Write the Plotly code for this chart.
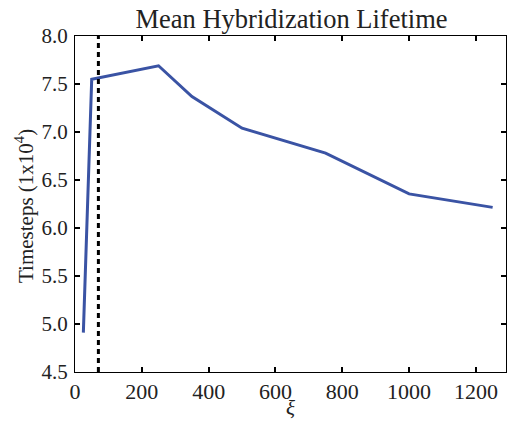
import plotly.graph_objects as go

xi = [25, 50, 250, 350, 500, 750, 1000, 1250]
lifetime = [4.91, 7.55, 7.69, 7.37, 7.04, 6.78, 6.355, 6.215]
threshold_x = 70
x_ticks = [0, 200, 400, 600, 800, 1000, 1200]
y_ticks = [4.5, 5.0, 5.5, 6.0, 6.5, 7.0, 7.5, 8.0]

font_family = "Liberation Serif"

fig = go.Figure()
fig.add_trace(go.Scatter(x=xi, y=lifetime, mode="lines",
                         line=dict(color="#3a53a4", width=3), showlegend=False))
fig.add_trace(go.Scatter(x=[threshold_x, threshold_x], y=[4.5, 8.0], mode="lines",
                         line=dict(color="black", width=3, dash="5px,4px"), showlegend=False))

axis_common = dict(showline=True, linecolor="black", linewidth=1, mirror="ticks",
                   ticks="inside", ticklen=5, tickwidth=1.5, tickcolor="black",
                   showgrid=False, zeroline=False, automargin=False)

fig.update_layout(
    width=507, height=422,
    margin=dict(l=75, r=1, t=36, b=50),
    plot_bgcolor="white", paper_bgcolor="white",
    title=dict(text="Mean Hybridization Lifetime", x=0.575, xanchor="center",
               y=0.955, yanchor="middle",
               font=dict(family=font_family, size=26.5, color="#222222")),
    xaxis=dict(range=[0, 1290], tickvals=x_ticks, ticktext=[str(t) for t in x_ticks],
               ticklabelstandoff=0,
               tickfont=dict(family=font_family, size=22, color="#222222"),
               **axis_common),
    yaxis=dict(range=[4.5, 8.0], tickvals=y_ticks, ticktext=[f"{t:.1f}" for t in y_ticks],
               ticklabelstandoff=2,
               tickfont=dict(family=font_family, size=21, color="#222222"),
               **axis_common),
    annotations=[
        dict(text="Timesteps (1x10<sup>4</sup>)", textangle=-90,
             xref="paper", yref="paper", x=0, y=0.494, xshift=-51,
             xanchor="center", yanchor="middle", showarrow=False,
             font=dict(family=font_family, size=21, color="#222222")),
        dict(text="<i>ξ</i>", xref="paper", yref="paper", x=0.501, y=0, yshift=-22,
             xanchor="center", yanchor="top", showarrow=False,
             font=dict(family=font_family, size=21, color="#222222")),
    ],
)

fig.write_html("out.html")
